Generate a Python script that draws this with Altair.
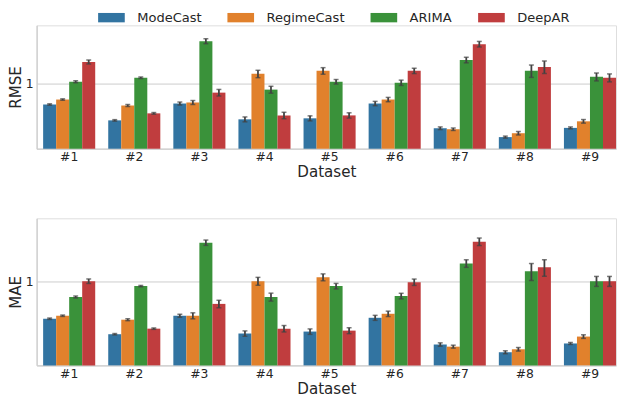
import altair as alt
import pandas as pd

datasets = ["#1", "#2", "#3", "#4", "#5", "#6", "#7", "#8", "#9"]
models = ["ModeCast", "RegimeCast", "ARIMA", "DeepAR"]
colors = ["#3274a1", "#e1812c", "#3a923a", "#c03d3e"]

rmse_modecast = [0.672, 0.494, 0.685, 0.504, 0.514, 0.685, 0.424, 0.357, 0.427]
rmse_regimecast = [0.740, 0.659, 0.699, 1.218, 1.291, 0.740, 0.416, 0.385, 0.485]
rmse_arima = [1.045, 1.129, 2.296, 0.897, 1.045, 1.025, 1.594, 1.291, 1.150]
rmse_deepar = [1.534, 0.566, 0.846, 0.544, 0.544, 1.291, 2.167, 1.394, 1.129]
rmse_err_modecast = [0.009, 0.007, 0.020, 0.024, 0.025, 0.029, 0.011, 0.007, 0.008]
rmse_err_regimecast = [0.010, 0.013, 0.027, 0.087, 0.082, 0.031, 0.010, 0.013, 0.017]
rmse_err_arima = [0.020, 0.017, 0.110, 0.060, 0.046, 0.053, 0.086, 0.154, 0.088]
rmse_err_deepar = [0.059, 0.009, 0.054, 0.034, 0.028, 0.067, 0.117, 0.166, 0.087]

mae_modecast = [0.485, 0.359, 0.514, 0.364, 0.378, 0.494, 0.294, 0.253, 0.300]
mae_regimecast = [0.514, 0.476, 0.514, 1.006, 1.086, 0.534, 0.282, 0.268, 0.343]
mae_arima = [0.740, 0.914, 2.126, 0.740, 0.914, 0.754, 1.420, 1.218, 1.006]
mae_deepar = [1.006, 0.400, 0.647, 0.400, 0.385, 0.987, 2.167, 1.316, 1.006]
mae_err_modecast = [0.0065, 0.0048, 0.015, 0.019, 0.020, 0.024, 0.0096, 0.0073, 0.0058]
mae_err_regimecast = [0.0069, 0.009, 0.030, 0.077, 0.073, 0.028, 0.0081, 0.0093, 0.012]
mae_err_arima = [0.014, 0.012, 0.110, 0.057, 0.049, 0.041, 0.104, 0.199, 0.097]
mae_err_deepar = [0.044, 0.0054, 0.047, 0.025, 0.022, 0.061, 0.158, 0.210, 0.097]


def build(vals, errs):
    rows = []
    for m, v, e in zip(models, vals, errs):
        for d, vv, ee in zip(datasets, v, e):
            rows.append({"dataset": d, "model": m, "value": vv,
                         "lo": vv - ee, "hi": vv + ee})
    return pd.DataFrame(rows)


rmse_df = build([rmse_modecast, rmse_regimecast, rmse_arima, rmse_deepar],
                [rmse_err_modecast, rmse_err_regimecast, rmse_err_arima, rmse_err_deepar])
mae_df = build([mae_modecast, mae_regimecast, mae_arima, mae_deepar],
               [mae_err_modecast, mae_err_regimecast, mae_err_arima, mae_err_deepar])

FONT = "DejaVu Sans"
TXT = "#262626"
GRID = "#cccccc"
W = 587


def panel(df, ytitle, lo, hi, h, show_legend):
    xenc = alt.X("dataset:N", sort=datasets, title="Dataset",
                 scale=alt.Scale(paddingInner=0.2, paddingOuter=0.05, align=1),
                 axis=alt.Axis(labelAngle=0, ticks=False, labelPadding=2, titlePadding=2,
                               domainColor=GRID, domainWidth=1.25, labelFontSize=12.5,
                               titleFontSize=15.3, titleFontWeight="normal", grid=False,
                               labelColor=TXT, titleColor=TXT, labelFont=FONT, titleFont=FONT))
    xoff = alt.XOffset("model:N", sort=models, scale=alt.Scale(paddingInner=0, paddingOuter=0))
    yscale = alt.Scale(type="log", domain=[lo, hi], nice=False)
    yaxis = alt.Axis(values=[1], format="~g", ticks=False, grid=True, gridColor=GRID,
                     gridWidth=1, domainColor=GRID, domainWidth=1.25, labelFontSize=12.5,
                     titleFontSize=15.3, titleFontWeight="normal", labelPadding=3.5,
                     titlePadding=1.5, labelColor=TXT, titleColor=TXT, labelFont=FONT,
                     titleFont=FONT)
    if show_legend:
        leg = alt.Legend(title=None, orient="none", direction="horizontal",
                         legendX=69.2, legendY=-14.5, padding=0,
                         symbolType="M-2.7,-0.95H2.7V0.95H-2.7Z", symbolSize=100,
                         symbolStrokeWidth=0, symbolOpacity=1, labelOffset=19.5,
                         columnPadding=26, labelFontSize=13.2, labelFont=FONT,
                         labelColor=TXT)
    else:
        leg = None
    color = alt.Color("model:N", sort=models,
                      scale=alt.Scale(domain=models, range=colors), legend=leg)
    base = alt.Chart(df).encode(x=xenc, xOffset=xoff)
    bars = base.mark_bar().encode(
        y=alt.Y("value:Q", scale=yscale, title=ytitle, axis=yaxis),
        y2=alt.datum(lo),
        color=color,
    )
    rules = base.mark_rule(color="#424242", strokeWidth=1.8).encode(
        y=alt.Y("lo:Q", scale=yscale), y2="hi:Q")
    tlo = base.mark_tick(color="#424242", size=5, thickness=1.5).encode(
        y=alt.Y("lo:Q", scale=yscale))
    thi = base.mark_tick(color="#424242", size=5, thickness=1.5).encode(
        y=alt.Y("hi:Q", scale=yscale))
    return alt.layer(bars, rules, tlo, thi).properties(width=W, height=h)


top = panel(rmse_df, "RMSE", 0.285, 3.12, 125, True)
bottom = panel(mae_df, "MAE", 0.196, 3.41, 149, False)

chart = alt.vconcat(top, bottom, spacing=70.5, bounds="flush").resolve_scale(
    color="independent"
).properties(
    padding={"left": 0, "top": 0, "right": 0, "bottom": 0}
).configure_view(stroke=None).configure(background="white")

chart.save("out.html", embed_options={"renderer": "svg", "actions": False})
